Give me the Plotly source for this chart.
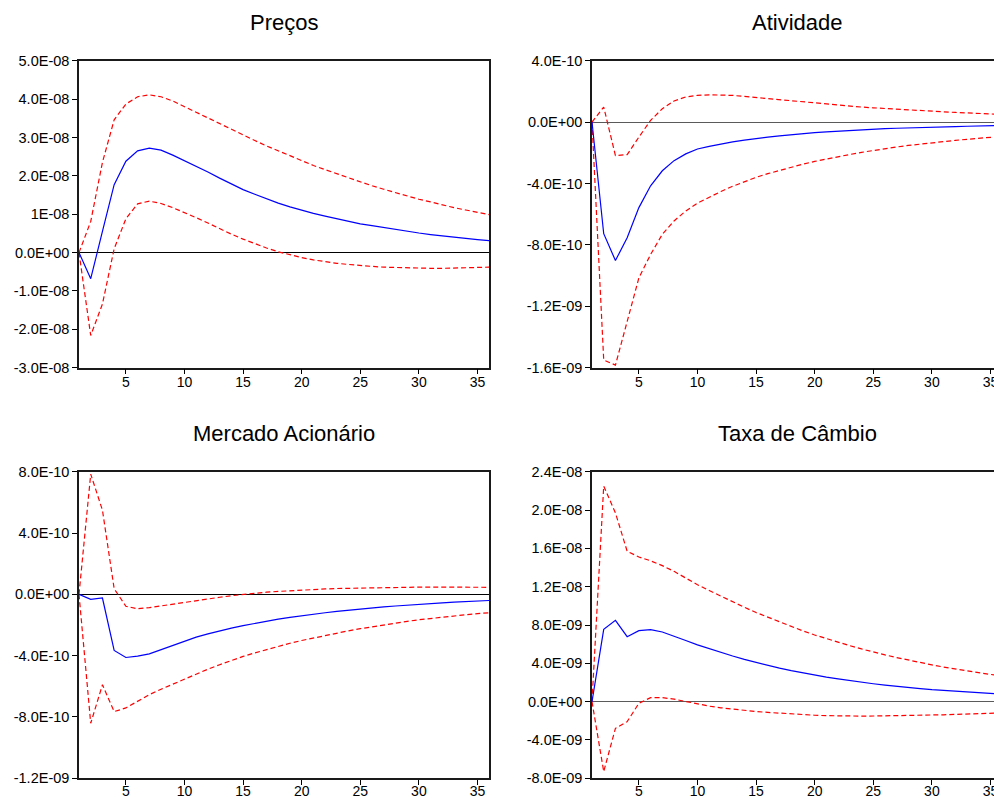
import plotly.graph_objects as go

# Impulse responses (horizon 1..36) with +/- 2 s.e. bands
periods = list(range(1, 37))

# Preços, in units of 1e-08
precos_scale = 1e-08
precos_resp = [0, -0.68, 0.55, 1.77, 2.38, 2.65, 2.72, 2.67, 2.54, 2.40, 2.25, 2.10, 1.94, 1.79, 1.64, 1.52,
               1.40, 1.29, 1.19, 1.10, 1.02, 0.95, 0.88, 0.81, 0.75, 0.70, 0.65, 0.60, 0.55, 0.51, 0.47, 0.43,
               0.40, 0.37, 0.34, 0.31]
precos_upper = [0, 0.81, 2.35, 3.46, 3.87, 4.06, 4.11, 4.06, 3.95, 3.80, 3.66, 3.52, 3.37, 3.21, 3.06, 2.92,
                2.78, 2.65, 2.52, 2.39, 2.27, 2.16, 2.05, 1.94, 1.84, 1.74, 1.65, 1.56, 1.47, 1.39, 1.32, 1.24,
                1.17, 1.11, 1.05, 0.99]
precos_lower = [0, -2.16, -1.34, 0.10, 0.88, 1.27, 1.34, 1.28, 1.17, 1.05, 0.91, 0.77, 0.62, 0.48, 0.35, 0.23,
                0.12, 0.02, -0.06, -0.13, -0.19, -0.24, -0.28, -0.31, -0.34, -0.36, -0.38, -0.39, -0.40, -0.41,
                -0.41, -0.41, -0.40, -0.40, -0.39, -0.38]
precos_ticks = [5e-08, 4e-08, 3e-08, 2e-08, 1e-08, 0, -1e-08, -2e-08, -3e-08]
precos_ticktext = ["5.0E-08", "4.0E-08", "3.0E-08", "2.0E-08", "1E-08", "0.0E+00", "-1.0E-08", "-2.0E-08", "-3.0E-08"]

# Atividade, in units of 1e-10
atividade_scale = 1e-10
atividade_resp = [0, -7.27, -9.02, -7.53, -5.57, -4.15, -3.17, -2.51, -2.07, -1.75, -1.58, -1.42, -1.29, -1.17,
                  -1.06, -0.98, -0.90, -0.82, -0.75, -0.69, -0.64, -0.59, -0.54, -0.50, -0.46, -0.43, -0.40,
                  -0.37, -0.35, -0.33, -0.31, -0.29, -0.27, -0.25, -0.24, -0.22]
atividade_upper = [0, 0.98, -2.18, -2.12, -0.98, 0.11, 0.87, 1.38, 1.64, 1.74, 1.78, 1.78, 1.74, 1.67, 1.60, 1.52,
                   1.45, 1.37, 1.29, 1.22, 1.16, 1.10, 1.04, 0.98, 0.93, 0.88, 0.84, 0.79, 0.75, 0.71, 0.67, 0.63,
                   0.60, 0.56, 0.53, 0.50]
atividade_lower = [0, -15.5, -15.83, -13.0, -10.15, -8.62, -7.31, -6.44, -5.79, -5.28, -4.88, -4.52, -4.18, -3.88,
                   -3.60, -3.36, -3.14, -2.93, -2.74, -2.56, -2.40, -2.25, -2.11, -1.97, -1.84, -1.73, -1.62,
                   -1.52, -1.43, -1.34, -1.26, -1.19, -1.12, -1.05, -0.99, -0.93]
atividade_ticks = [4e-10, 0, -4e-10, -8e-10, -1.2e-09, -1.6e-09]
atividade_ticktext = ["4.0E-10", "0.0E+00", "-4.0E-10", "-8.0E-10", "-1.2E-09", "-1.6E-09"]

# Mercado Acionário, in units of 1e-10
mercado_scale = 1e-10
mercado_resp = [0, -0.33, -0.24, -3.66, -4.12, -4.03, -3.88, -3.61, -3.31, -3.02, -2.79, -2.58, -2.38, -2.20,
                -2.04, -1.89, -1.75, -1.62, -1.50, -1.39, -1.29, -1.20, -1.11, -1.03, -0.95, -0.88, -0.82, -0.76,
                -0.70, -0.65, -0.60, -0.56, -0.51, -0.47, -0.44, -0.40]
mercado_upper = [0, 7.84, 5.49, 0.37, -0.78, -0.94, -0.87, -0.75, -0.63, -0.51, -0.40, -0.29, -0.19, -0.09, 0.00,
                 0.07, 0.14, 0.19, 0.24, 0.28, 0.32, 0.35, 0.38, 0.40, 0.42, 0.44, 0.45, 0.46, 0.47, 0.47, 0.47,
                 0.47, 0.47, 0.47, 0.46, 0.46]
mercado_lower = [0, -8.41, -5.90, -7.65, -7.41, -6.99, -6.54, -6.19, -5.85, -5.51, -5.19, -4.88, -4.59, -4.31,
                 -4.05, -3.82, -3.60, -3.39, -3.19, -3.01, -2.84, -2.68, -2.52, -2.38, -2.24, -2.11, -1.99, -1.87,
                 -1.76, -1.66, -1.57, -1.48, -1.40, -1.33, -1.26, -1.20]
mercado_ticks = [8e-10, 4e-10, 0, -4e-10, -8e-10, -1.2e-09]
mercado_ticktext = ["8.0E-10", "4.0E-10", "0.0E+00", "-4.0E-10", "-8.0E-10", "-1.2E-09"]

# Taxa de Câmbio, in units of 1e-09
cambio_scale = 1e-09
cambio_resp = [0, 7.55, 8.49, 6.78, 7.41, 7.51, 7.27, 6.85, 6.38, 5.92, 5.52, 5.13, 4.76, 4.41, 4.08, 3.78, 3.50,
               3.24, 2.99, 2.77, 2.56, 2.37, 2.19, 2.02, 1.87, 1.73, 1.59, 1.47, 1.36, 1.25, 1.16, 1.07, 0.99,
               0.91, 0.84, 0.78]
cambio_upper = [0, 22.5, 19.7, 15.7, 15.1, 14.7, 14.2, 13.6, 12.9, 12.2, 11.6, 11.0, 10.4, 9.85, 9.30, 8.80,
                8.30, 7.83, 7.38, 6.96, 6.57, 6.20, 5.84, 5.50, 5.17, 4.88, 4.60, 4.33, 4.08, 3.84, 3.61, 3.40,
                3.20, 3.01, 2.84, 2.68]
cambio_lower = [0, -7.30, -2.78, -2.09, -0.17, 0.42, 0.42, 0.26, 0.02, -0.26, -0.47, -0.64, -0.79, -0.92, -1.03,
                -1.12, -1.21, -1.30, -1.37, -1.42, -1.46, -1.49, -1.51, -1.51, -1.50, -1.49, -1.48, -1.46, -1.43,
                -1.40, -1.37, -1.33, -1.29, -1.25, -1.21, -1.17]
cambio_ticks = [2.4e-08, 2e-08, 1.6e-08, 1.2e-08, 8e-09, 4e-09, 0, -4e-09, -8e-09]
cambio_ticktext = ["2.4E-08", "2.0E-08", "1.6E-08", "1.2E-08", "8.0E-09", "4.0E-09", "0.0E+00", "-4.0E-09", "-8.0E-09"]

x_ticks = [5, 10, 15, 20, 25, 30, 35]

panels = [
    ("Preços", precos_scale, precos_resp, precos_upper, precos_lower, precos_ticks, precos_ticktext, "black"),
    ("Atividade", atividade_scale, atividade_resp, atividade_upper, atividade_lower, atividade_ticks,
     atividade_ticktext, "#5a5a5a"),
    ("Mercado Acionário", mercado_scale, mercado_resp, mercado_upper, mercado_lower, mercado_ticks,
     mercado_ticktext, "black"),
    ("Taxa de Câmbio", cambio_scale, cambio_resp, cambio_upper, cambio_lower, cambio_ticks, cambio_ticktext,
     "#5a5a5a"),
]

W, H = 994, 798
UNIT = 11.72  # pixels per period on every horizontal axis
# plot areas in pixels: (left, right, top, bottom); the right column runs past the page edge
boxes = [(79, 489, 60.7, 367.7), (592, 994, 60.7, 367.7),
         (79, 489, 471.7, 778.3), (592, 994, 471.7, 778.3)]

FONT = "Liberation Sans, Arial, sans-serif"
fig = go.Figure()
layout = dict(
    width=W, height=H, margin=dict(l=0, r=0, t=0, b=0, pad=0, autoexpand=False),
    paper_bgcolor="white", plot_bgcolor="white", showlegend=False,
    font=dict(family=FONT, size=15, color="black"),
    annotations=[],
)

for i, (title, scale, resp, upper, lower, yt, ytt, zcol) in enumerate(panels):
    n = i + 1
    xa = "x" if n == 1 else f"x{n}"
    ya = "y" if n == 1 else f"y{n}"
    for series, color, dash in ((upper, "#ff0000", "5px,3px"), (lower, "#ff0000", "5px,3px"),
                                (resp, "#0000ff", "solid")):
        fig.add_trace(go.Scatter(x=periods, y=[v * scale for v in series], mode="lines",
                                 line=dict(color=color, width=1.2, dash=dash),
                                 xaxis=xa, yaxis=ya, hoverinfo="skip"))
    l, r, t, b = boxes[i]
    right_col = (i % 2 == 1)
    bottom_row = (i >= 2)
    x_end = 1 + (r - l) / UNIT
    layout["xaxis" if n == 1 else f"xaxis{n}"] = dict(
        domain=[l / W, r / W], anchor=ya, range=[1, x_end], automargin=False,
        tickmode="array", tickvals=x_ticks, ticktext=[str(v) for v in x_ticks],
        ticks="outside", ticklen=5, tickwidth=1, tickcolor="black",
        ticklabeloverflow="allow", ticklabelstandoff=-6 if bottom_row else -4,
        showline=True, mirror=True, linecolor="#1a1a1a", linewidth=1.5,
        showgrid=False, zeroline=False, tickfont=dict(size=14, family=FONT),
    )
    layout["yaxis" if n == 1 else f"yaxis{n}"] = dict(
        domain=[1 - b / H, 1 - t / H], anchor=xa, range=[min(yt), max(yt)], automargin=False,
        tickmode="array", tickvals=yt, ticktext=ytt,
        ticks="outside", ticklen=5, tickwidth=1, tickcolor="black",
        showline=True, mirror=not right_col, linecolor="#1a1a1a", linewidth=1.5,
        showgrid=False, zeroline=True, zerolinecolor=zcol, zerolinewidth=1.2,
        tickfont=dict(size=14.5, family=FONT),
    )
    title_cx = l + 35 * UNIT / 2
    layout["annotations"].append(dict(
        text=title, x=title_cx / W, y=1 - (t - 38) / H, xref="paper", yref="paper",
        xanchor="center", yanchor="middle", showarrow=False,
        font=dict(size=22, family=FONT, color="black"),
    ))

fig.update_layout(**layout)
fig.write_html("out.html")
